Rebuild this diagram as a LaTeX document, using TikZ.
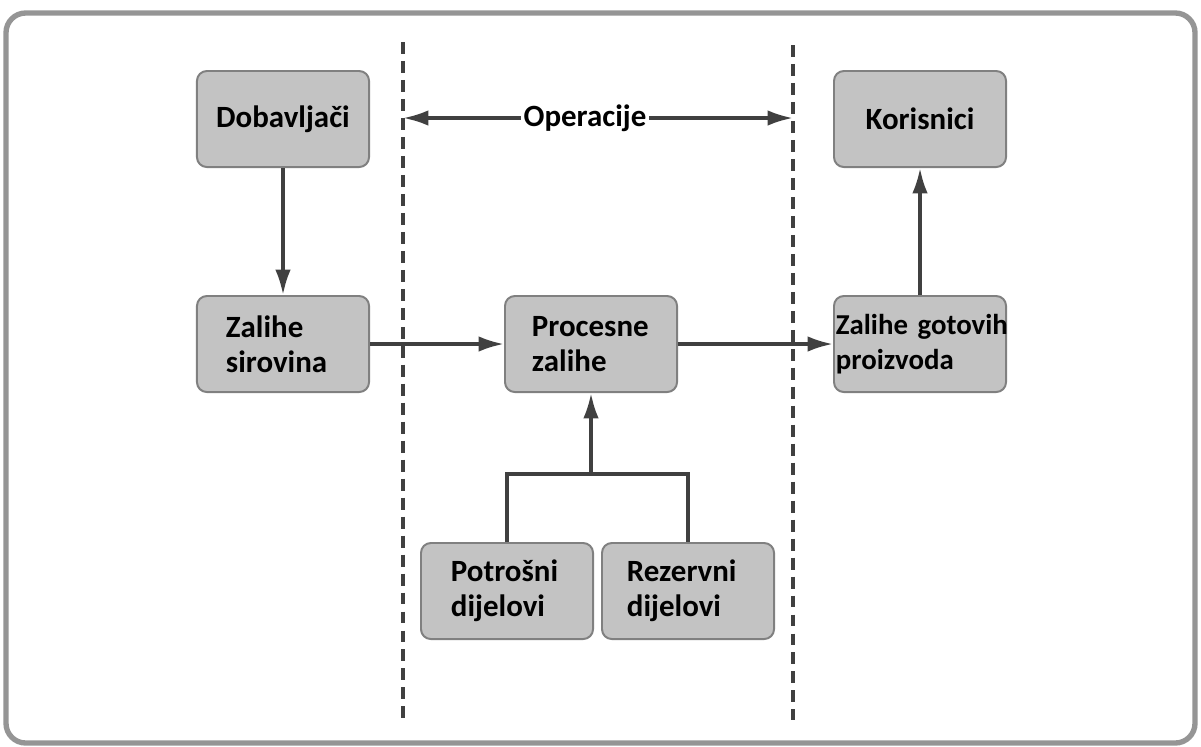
\documentclass[tikz,border=0pt]{standalone}
\usepackage{fontspec}
\setmainfont{Carlito}
\usetikzlibrary{arrows.meta}
\definecolor{kutijasiva}{HTML}{C3C3C3}
\definecolor{rubsiva}{HTML}{808080}
\definecolor{strelsiva}{HTML}{404040}
\definecolor{okvirsiva}{HTML}{959595}

\begin{document}
\begin{tikzpicture}[x=0.025cm, y=-0.025cm,
    kutija/.style={draw=rubsiva, line width=1.4pt, fill=kutijasiva, rounded corners=7pt,
        minimum width=4.3cm, minimum height=2.4cm, inner sep=0pt,
        font=\bfseries\fontsize{22}{25}\selectfont, align=left},
    strelica/.style={color=strelsiva, line width=2.4pt, -{Latex[length=18pt,width=11pt]}},
    veza/.style={draw=strelsiva, line width=2.4pt},
    crta/.style={draw=strelsiva, line width=2.5pt, dash pattern=on 8.5pt off 5pt}]
\useasboundingbox (0,0) rectangle (1201,746);
\draw[okvirsiva, line width=3.8pt, rounded corners=14pt] (6,13) rectangle (1195,743);

\begin{scope}[every node/.style={kutija}]
    \node (dob) at (283,119){Dobavljači};
    \node[text width=2.85cm] (sir) at (283,344){Zalihe\\sirovina};
    \node[text width=2.95cm] (proc) at (591,344){Procesne\\zalihe};
    \node (kor) at (920,119){Korisnici};
    \node[text width=4.2cm, font=\bfseries\fontsize{20.5}{25}\selectfont] (got) at (920,344){\mbox{Zalihe gotovih}\\proizvoda};
    \node[text width=2.8cm] (potr) at (507,591){Potrošni\\dijelovi};
    \node[text width=3.05cm] (rez) at (688,591){Rezervni\\dijelovi};
\end{scope}

    \coordinate (lg) at (403,42);
    \coordinate (ld) at (403,718);
    \coordinate (dg) at (793,45);
    \coordinate (dd) at (793,720);
    \draw[crta] (lg) -- (ld);
    \draw[crta] (dg) -- (dd);

    \node[font=\bfseries\fontsize{22}{25}\selectfont, inner xsep=2pt] (oper) at (585,118){Operacije};
    \draw[strelica] (oper) -- (oper -| lg);
    \draw[strelica] (oper) -- (oper -| dg);

    \path [strelica] (dob) edge (sir);
    \path [strelica] (sir) edge (proc);
    \path [strelica] (proc) edge (got);
    \path [strelica] (got) edge (kor);

    \coordinate (spoj) at (591,474);
    \draw[veza] (potr.north) |- (spoj) -| (rez.north);
    \draw[strelica] (spoj) -- (proc);

\end{tikzpicture}
\end{document}
